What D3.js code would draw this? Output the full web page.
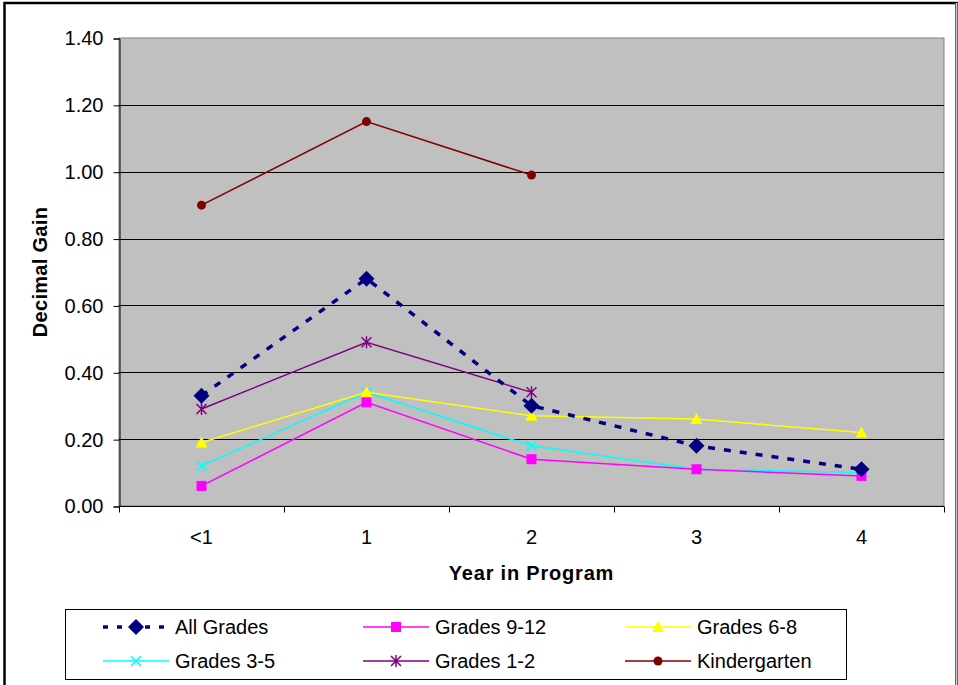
<!DOCTYPE html>
<html>
<head>
<meta charset="utf-8">
<script src="https://cdn.jsdelivr.net/npm/d3@7"></script>
<style>
  html, body { margin: 0; padding: 0; background: #fff; }
  svg { display: block; font-family: "Liberation Sans", Arial, sans-serif; }
</style>
</head>
<body>
<svg id="chart" width="958" height="685"></svg>
<script>
// Year-in-program categories and y-axis ticks
const years = ["<1", "1", "2", "3", "4"];
const yTicks = [0, 0.2, 0.4, 0.6, 0.8, 1.0, 1.2, 1.4];

// Decimal gain per grade group (null = no data)
const allGrades    = [0.33, 0.68, 0.30, 0.18, 0.11];
const grades9to12  = [0.06, 0.31, 0.14, 0.11, 0.09];
const grades6to8   = [0.19, 0.34, 0.27, 0.26, 0.22];
const grades3to5   = [0.12, 0.34, 0.18, 0.11, 0.10];
const grades1to2   = [0.29, 0.49, 0.34, null, null];
const kindergarten = [0.90, 1.15, 0.99, null, null];

const series = [
  { name: "All Grades",   values: allGrades,    color: "#000080", marker: "diamond", dashed: true },
  { name: "Grades 9-12",  values: grades9to12,  color: "#FF00FF", marker: "square" },
  { name: "Grades 6-8",   values: grades6to8,   color: "#FFFF00", marker: "triangle" },
  { name: "Grades 3-5",   values: grades3to5,   color: "#00FFFF", marker: "x" },
  { name: "Grades 1-2",   values: grades1to2,   color: "#800080", marker: "star" },
  { name: "Kindergarten", values: kindergarten, color: "#800000", marker: "circle" }
];

const FONT = 20;
const svg = d3.select("#chart");
const W = 958, H = 685;

// outer frame
svg.append("rect").attr("x", 4.5).attr("y", 3).attr("width", W - 6).attr("height", H)
  .attr("fill", "none").attr("stroke", "#000").attr("stroke-width", 2.5);
svg.append("line").attr("x1", 956.5).attr("x2", 956.5).attr("y1", 3).attr("y2", H)
  .attr("stroke", "#d0d0d0").attr("stroke-width", 1.5);

const plot = { left: 119, top: 38, right: 944, bottom: 506 };

const x = d3.scaleBand().domain(years).range([plot.left, plot.right]);
const y = d3.scaleLinear().domain([0, 1.4]).range([plot.bottom, plot.top]);

// plot background
svg.append("rect")
  .attr("x", plot.left).attr("y", plot.top)
  .attr("width", plot.right - plot.left).attr("height", plot.bottom - plot.top)
  .attr("fill", "#C0C0C0").attr("stroke", "#808080").attr("stroke-width", 1);

// gridlines
svg.append("g").selectAll("line").data(yTicks.filter(t => t > 0 && t < 1.4)).join("line")
  .attr("x1", plot.left).attr("x2", plot.right)
  .attr("y1", d => Math.round(y(d)) + 0.5).attr("y2", d => Math.round(y(d)) + 0.5)
  .attr("stroke", "#000").attr("stroke-width", 1);

// y axis
const yAxis = d3.axisLeft(y).tickValues(yTicks).tickFormat(d3.format(".2f")).tickSize(6).tickPadding(10);
const gy = svg.append("g").attr("transform", `translate(${plot.left + 0.5},0.5)`).call(yAxis);
gy.select(".domain").attr("stroke", "#000");
gy.selectAll(".tick line").attr("stroke", "#000");
gy.selectAll("text").attr("font-size", FONT).attr("fill", "#000")
  .attr("font-family", "Liberation Sans, Arial, sans-serif");

// x axis: ticks between categories
const gx = svg.append("g").attr("transform", `translate(0,${plot.bottom + 0.5})`);
gx.append("line").attr("x1", plot.left).attr("x2", plot.right).attr("stroke", "#000");
const boundaries = years.map(d => x(d)).concat([x(years[years.length - 1]) + x.bandwidth()]);
gx.selectAll("line.tk").data(boundaries).join("line").attr("class", "tk")
  .attr("x1", d => Math.round(d) + 0.5).attr("x2", d => Math.round(d) + 0.5)
  .attr("y1", 0).attr("y2", 6).attr("stroke", "#000");
gx.selectAll("text").data(years).join("text")
  .attr("x", d => x(d) + x.bandwidth() / 2).attr("y", 37)
  .attr("text-anchor", "middle").attr("font-size", FONT).text(d => d);

// axis titles
svg.append("text").attr("x", (plot.left + plot.right) / 2).attr("y", 580)
  .attr("text-anchor", "middle").attr("font-size", FONT).attr("font-weight", "bold")
  .attr("letter-spacing", 0.8)
  .text("Year in Program");
svg.append("text").attr("transform", `translate(47,${(plot.top + plot.bottom) / 2}) rotate(-90)`)
  .attr("text-anchor", "middle").attr("font-size", FONT).attr("font-weight", "bold")
  .attr("letter-spacing", 0.3)
  .text("Decimal Gain");

// marker drawing
function drawMarker(g, type, color, cx, cy) {
  switch (type) {
    case "diamond":
      g.append("path").attr("d", `M${cx},${cy - 8}L${cx + 8},${cy}L${cx},${cy + 8}L${cx - 8},${cy}Z`)
        .attr("fill", color);
      break;
    case "square":
      g.append("rect").attr("x", cx - 5).attr("y", cy - 5).attr("width", 10).attr("height", 10)
        .attr("fill", color);
      break;
    case "triangle":
      g.append("path").attr("d", `M${cx},${cy - 6}L${cx + 6},${cy + 5}L${cx - 6},${cy + 5}Z`)
        .attr("fill", color);
      break;
    case "x":
      g.append("path").attr("d", `M${cx - 5},${cy - 5}L${cx + 5},${cy + 5}M${cx + 5},${cy - 5}L${cx - 5},${cy + 5}`)
        .attr("stroke", color).attr("stroke-width", 1.5);
      break;
    case "star":
      g.append("path").attr("d", `M${cx - 5},${cy - 5}L${cx + 5},${cy + 5}M${cx + 5},${cy - 5}L${cx - 5},${cy + 5}M${cx},${cy - 6}L${cx},${cy + 6}`)
        .attr("stroke", color).attr("stroke-width", 1.5);
      break;
    case "circle":
      g.append("circle").attr("cx", cx).attr("cy", cy).attr("r", 4.5).attr("fill", color);
      break;
  }
}

const cxOf = i => x(years[i]) + x.bandwidth() / 2;

// series lines, drawn in reverse so All Grades sits on top
const line = d3.line().defined(d => d.v !== null).x(d => cxOf(d.i)).y(d => y(d.v));
[...series].reverse().forEach(s => {
  const g = svg.append("g");
  const pts = s.values.map((v, i) => ({ v, i }));
  g.append("path").attr("d", line(pts)).attr("fill", "none")
    .attr("stroke", s.color)
    .attr("stroke-width", s.dashed ? 3.5 : 1.5)
    .attr("stroke-dasharray", s.dashed ? "7,9" : null);
  pts.filter(p => p.v !== null).forEach(p => drawMarker(g, s.marker, s.color, cxOf(p.i), y(p.v)));
});

// legend
const legend = svg.append("g");
legend.append("rect").attr("x", 65.5).attr("y", 609.5).attr("width", 781).attr("height", 70)
  .attr("fill", "#fff").attr("stroke", "#000").attr("stroke-width", 1);
const colX = [103, 363, 625];
const rowY = [627, 661];
series.forEach((s, i) => {
  const lx = colX[i % 3], ly = rowY[Math.floor(i / 3)];
  const g = legend.append("g");
  g.append("line").attr("x1", lx).attr("x2", lx + 66).attr("y1", ly).attr("y2", ly)
    .attr("stroke", s.color).attr("stroke-width", s.dashed ? 3.5 : 1.5)
    .attr("stroke-dasharray", s.dashed ? "5,9" : null);
  drawMarker(g, s.marker, s.color, lx + 33, ly);
  g.append("text").attr("x", lx + 72).attr("y", ly + 7).attr("font-size", FONT).text(s.name);
});
</script>
</body>
</html>
